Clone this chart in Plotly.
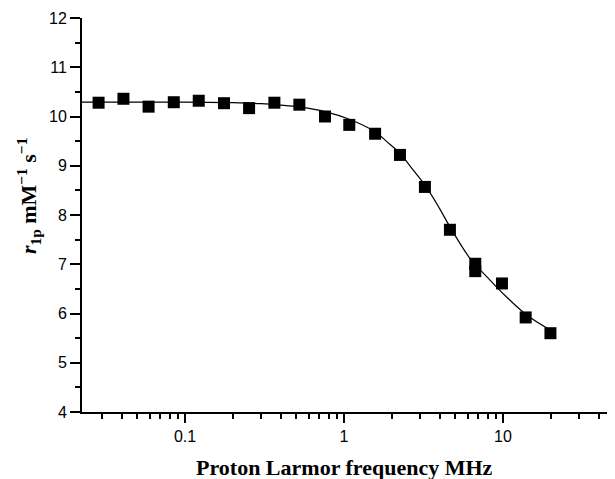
import plotly.graph_objects as go

# Measured data (Proton Larmor frequency in MHz, r1p in mM^-1 s^-1)
freq_mhz = [0.0286, 0.041, 0.059, 0.085, 0.122, 0.176, 0.253, 0.365, 0.524, 0.76,
            1.08, 1.57, 2.25, 3.23, 4.64, 6.7, 6.7, 9.86, 13.9, 19.9]
r1p = [10.28, 10.36, 10.20, 10.29, 10.32, 10.27, 10.17, 10.28, 10.24, 10.00,
       9.83, 9.65, 9.22, 8.57, 7.70, 7.01, 6.86, 6.61, 5.92, 5.60]

# Fitted curve
fit_freq = [0.0225, 0.05, 0.1, 0.2, 0.3, 0.4, 0.53, 0.76, 1.09, 1.57, 1.86, 2.25,
            2.73, 3.23, 3.98, 4.64, 6.2, 7.9, 10.5, 14.1, 19.5]
fit_r1p = [10.29, 10.29, 10.29, 10.28, 10.26, 10.23, 10.19, 10.10, 9.94, 9.69, 9.49, 9.25,
           8.91, 8.61, 8.14, 7.76, 7.12, 6.75, 6.34, 5.97, 5.68]

x_major = [0.1, 1, 10]
x_major_labels = ["0.1", "1", "10"]
x_minor = [0.03, 0.04, 0.05, 0.06, 0.07, 0.08, 0.09,
           0.2, 0.3, 0.4, 0.5, 0.6, 0.7, 0.8, 0.9,
           2, 3, 4, 5, 6, 7, 8, 9,
           20, 30, 40]

fig = go.Figure()
fig.add_trace(go.Scatter(x=fit_freq, y=fit_r1p, mode="lines", line_shape="spline",
                         line=dict(color="black", width=1.2), hoverinfo="skip"))
fig.add_trace(go.Scatter(x=freq_mhz, y=r1p, mode="markers",
                         marker=dict(symbol="square", size=12, color="black",
                                     line=dict(width=0))))

# The page body adds an 8px offset, so the figure is sized to fill the rest of the window
fig.update_layout(
    width=607, height=471,
    margin=dict(l=74, r=0, t=10, b=67),
    paper_bgcolor="white", plot_bgcolor="white",
    showlegend=False,
    font=dict(family="Liberation Sans, Arial, sans-serif", color="black", size=16),
)
fig.update_xaxes(
    type="log", range=[-1.648, 1.705],
    tickmode="array", tickvals=x_major, ticktext=x_major_labels,
    ticks="outside", ticklen=9, tickwidth=1.5, tickcolor="black",
    minor=dict(tickmode="array", tickvals=x_minor, ticks="outside", ticklen=5,
               tickwidth=1.5, tickcolor="black"),
    showline=True, linecolor="black", linewidth=1.8,
    showgrid=False, zeroline=False,
    tickfont=dict(size=16),
)
fig.update_yaxes(
    range=[4, 12], dtick=1, tick0=4,
    ticks="outside", ticklen=10, tickwidth=1.5, tickcolor="black",
    minor=dict(dtick=0.5, ticks="outside", ticklen=5, tickwidth=1.5, tickcolor="black"),
    showline=True, linecolor="black", linewidth=1.8,
    showgrid=False, zeroline=False,
    tickfont=dict(size=16),
)
fig.add_annotation(
    xref="paper", yref="paper", x=0.493, y=0, yshift=-55, xanchor="center", yanchor="middle",
    text="<b>Proton Larmor frequency MHz</b>", showarrow=False,
    font=dict(family="Liberation Serif, Times New Roman, serif", size=22, color="black"),
)
fig.add_annotation(
    xref="paper", yref="paper", x=0, xshift=-54, y=0.548, xanchor="center", yanchor="middle",
    textangle=-90,
    text="<b><i>r</i><sub>1p</sub> mM<sup>−1</sup> s<sup>−1</sup></b>", showarrow=False,
    font=dict(family="Liberation Serif, Times New Roman, serif", size=22, color="black"),
)
fig.write_html("out.html")
